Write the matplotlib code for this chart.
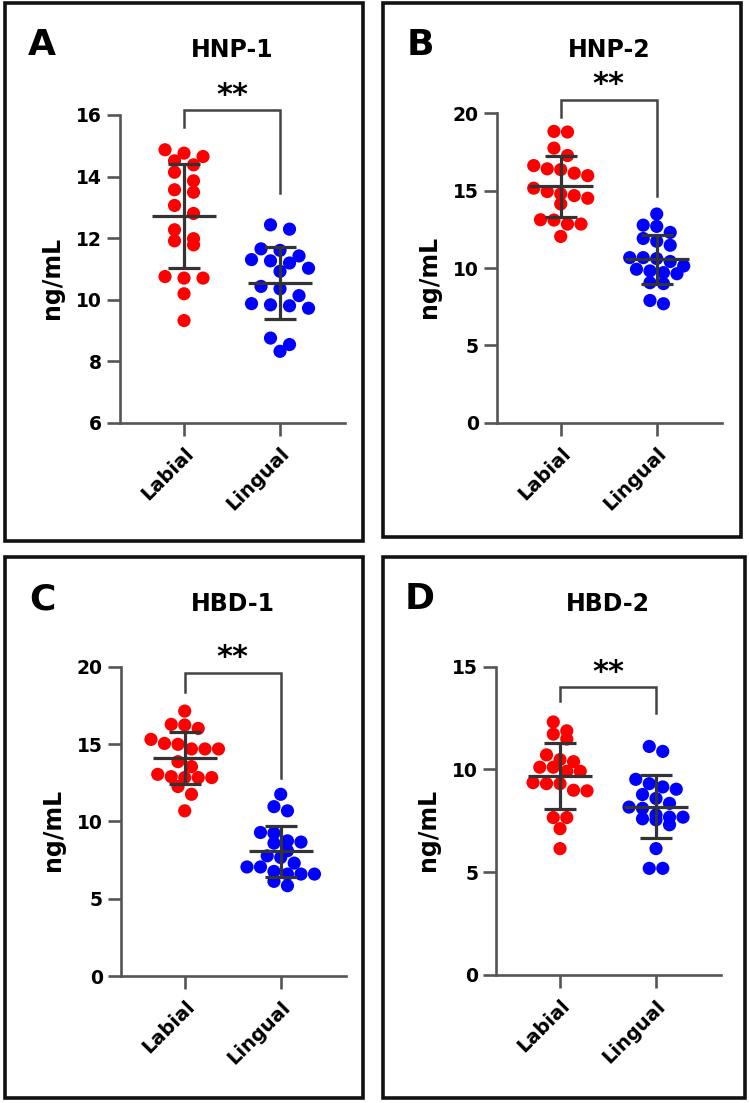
import numpy as np
import matplotlib
matplotlib.use("Agg")
import matplotlib.pyplot as plt
from matplotlib.patches import Rectangle

# ---------------- data ----------------
groups = ["Labial", "Lingual"]
panel_letters = ["A", "B", "C", "D"]
panel_titles = ["HNP-1", "HNP-2", "HBD-1", "HBD-2"]
y_label = "ng/mL"
sig_label = "**"

hnp1_labial = [14.87, 14.76, 14.65, 14.51, 14.38, 14.14, 13.86, 13.57, 13.49, 13.06,
               12.80, 12.27, 11.98, 11.91, 11.78, 10.70, 10.75, 10.70, 10.19, 9.32]
hnp1_lingual = [12.43, 12.29, 11.65, 11.60, 11.42, 11.30, 11.26, 11.19, 11.02, 10.92,
                10.43, 10.35, 10.13, 9.83, 9.72, 9.80, 9.87, 8.75, 8.54, 8.32]
hnp2_labial = [18.79, 18.83, 17.75, 17.27, 16.41, 16.62, 16.36, 16.13, 15.97, 15.16,
               14.68, 14.79, 14.94, 14.51, 14.14, 12.84, 13.12, 12.84, 13.10, 12.04]
hnp2_lingual = [13.49, 12.69, 12.77, 12.30, 11.91, 11.73, 11.47, 10.67, 10.61, 10.42,
                10.67, 10.13, 9.92, 9.81, 9.70, 9.63, 9.05, 8.99, 7.69, 7.90]
hbd1_labial = [17.13, 16.23, 16.27, 16.01, 15.30, 14.98, 15.04, 14.68, 14.68, 14.68,
               13.86, 13.54, 12.83, 12.89, 12.83, 13.04, 12.83, 12.25, 11.75, 10.68]
hbd1_lingual = [11.75, 10.95, 10.68, 9.28, 9.24, 8.59, 8.66, 8.74, 8.10, 7.77,
                7.66, 7.30, 7.05, 7.05, 6.76, 6.59, 6.59, 6.59, 6.12, 5.84]
hbd2_labial = [12.31, 11.72, 11.88, 11.48, 10.71, 10.48, 10.38, 10.11, 10.11, 9.91,
               9.91, 9.31, 9.36, 9.31, 8.96, 8.99, 7.66, 7.66, 7.12, 6.15]
hbd2_lingual = [10.88, 11.12, 9.52, 9.04, 9.15, 9.31, 8.78, 8.59, 8.35, 8.11,
                8.17, 7.55, 7.68, 7.79, 7.68, 7.60, 7.31, 6.15, 5.19, 5.19]

# mean and SD shown by the error bars (labial, lingual)
means = [[12.72, 10.54], [15.28, 10.56], [14.08, 8.08], [9.68, 8.19]]
sds = [[1.69, 1.17], [1.99, 1.57], [1.69, 1.65], [1.60, 1.54]]

# y-axis ranges and ticks
y_limits = [(6, 16), (0, 20), (0, 20), (0, 15)]
y_ticks = [[6, 8, 10, 12, 14, 16], [0, 5, 10, 15, 20], [0, 5, 10, 15, 20], [0, 5, 10, 15]]

# significance bracket: (top, left leg end, right leg end) in data units
brackets = [(16.16, 15.6, 13.46), (20.86, 19.76, 14.66), (19.6, 18.37, 12.79), (13.99, 13.32, 12.73)]

series = [(hnp1_labial, hnp1_lingual), (hnp2_labial, hnp2_lingual),
          (hbd1_labial, hbd1_lingual), (hbd2_labial, hbd2_lingual)]

# ---------------- layout (pixels) ----------------
W, H = 750, 1103
fig = plt.figure(figsize=(W / 100, H / 100), dpi=100)

def fx(x):
    return x / W

def fy(y):
    return 1 - y / H

axes_px = [(120, 115, 345, 422.7), (496.7, 113.3, 721.7, 422.7),
           (120.7, 666.7, 345.7, 976), (496, 666.7, 721, 975)]
boxes_px = [(5, 3, 363, 541), (383, 3, 741, 537), (5, 557, 363, 1098), (383, 557, 745, 1098)]
swarm_spacing = [19, 13.5, 13.5, 13.5]

red = "#FF0000"
blue = "#0000FF"
axis_col = "#555555"
bar_col = "#333333"
dot_colors = [red, blue]


def swarm_offsets(vals, px_per_unit, spacing_px, px_per_x, row_h_px=10.5):
    vals = np.asarray(vals, float)
    order = np.argsort(-vals, kind="stable")
    rows, cur = [], [order[0]]
    for idx in order[1:]:
        if (vals[cur[0]] - vals[idx]) * px_per_unit < row_h_px:
            cur.append(idx)
        else:
            rows.append(cur)
            cur = [idx]
    rows.append(cur)
    off = np.zeros(len(vals))
    for row in rows:
        n = len(row)
        for k, idx in enumerate(row):
            off[idx] = (k - (n - 1) / 2) * spacing_px / px_per_x
    return off


for p in range(4):
    l, t, r, b = axes_px[p]
    ax = fig.add_axes([fx(l), fy(b), (r - l) / W, (b - t) / H])
    xmin, xmax = -0.667, 1.677
    ax.set_xlim(xmin, xmax)
    ax.set_ylim(*y_limits[p])
    px_per_x = (r - l) / (xmax - xmin)
    px_per_unit = (b - t) / (y_limits[p][1] - y_limits[p][0])

    for g in range(2):
        vals = np.asarray(series[p][g], float)
        off = swarm_offsets(vals, px_per_unit, swarm_spacing[p], px_per_x)
        ax.scatter(g + off, vals, s=90, color=dot_colors[g], edgecolors="none",
                   zorder=2, clip_on=False)
        m, sd = means[p][g], sds[p][g]
        ax.hlines(m, g - 0.333, g + 0.333, color=bar_col, lw=2.3, zorder=3)
        ax.vlines(g, m - sd, m + sd, color=bar_col, lw=2.3, zorder=3)
        ax.hlines([m - sd, m + sd], g - 0.167, g + 0.167, color=bar_col, lw=2.3, zorder=3)

    top, lend, rend = brackets[p]
    ax.plot([0, 0, 1, 1], [lend, top, top, rend], color="#444444", lw=1.8,
            clip_on=False, zorder=3, solid_joinstyle="miter")

    for s in ["top", "right"]:
        ax.spines[s].set_visible(False)
    for s in ["left", "bottom"]:
        ax.spines[s].set_color(axis_col)
        ax.spines[s].set_linewidth(1.9)
    ax.set_yticks(y_ticks[p])
    ax.set_yticklabels([str(v) for v in y_ticks[p]], fontsize=13.5, fontweight="bold")
    ax.set_xticks([0, 1])
    ax.set_xticklabels(groups, fontsize=14, fontweight="bold", rotation=45,
                       ha="right", va="top", rotation_mode="anchor")
    ax.tick_params(axis="both", direction="out", length=9.3, width=1.9, color=axis_col,
                   pad=3.5)
    ax.tick_params(axis="x", pad=6)
    ax.patch.set_alpha(0)

    # y label
    fig.text(fx(l - 68), fy((t + b) / 2 + 9), y_label, rotation=90, ha="center",
             va="center", fontsize=17, fontweight="bold")
    # titles
    bl, bt, br, bb = boxes_px[p]
    fig.text(fx(bl + 37), fy(bt + 42), panel_letters[p], ha="center", va="center",
             fontsize=26, fontweight="bold")
    fig.text(fx(l + 112), fy(bt + 47), panel_titles[p], ha="center", va="center",
             fontsize=17, fontweight="bold")
    # significance stars above bracket
    star_y = b - (top - y_limits[p][0]) * px_per_unit - 15
    fig.text(fx(l + 112), fy(star_y), sig_label, ha="center", va="center",
             fontsize=22, fontweight="bold")

    # panel frame
    fig.add_artist(Rectangle((fx(bl), fy(bb)), (br - bl) / W, (bb - bt) / H,
                             transform=fig.transFigure, fill=False, lw=2.6,
                             edgecolor="#111111", zorder=10))

fig.savefig("out.png", dpi=100, facecolor="white")
